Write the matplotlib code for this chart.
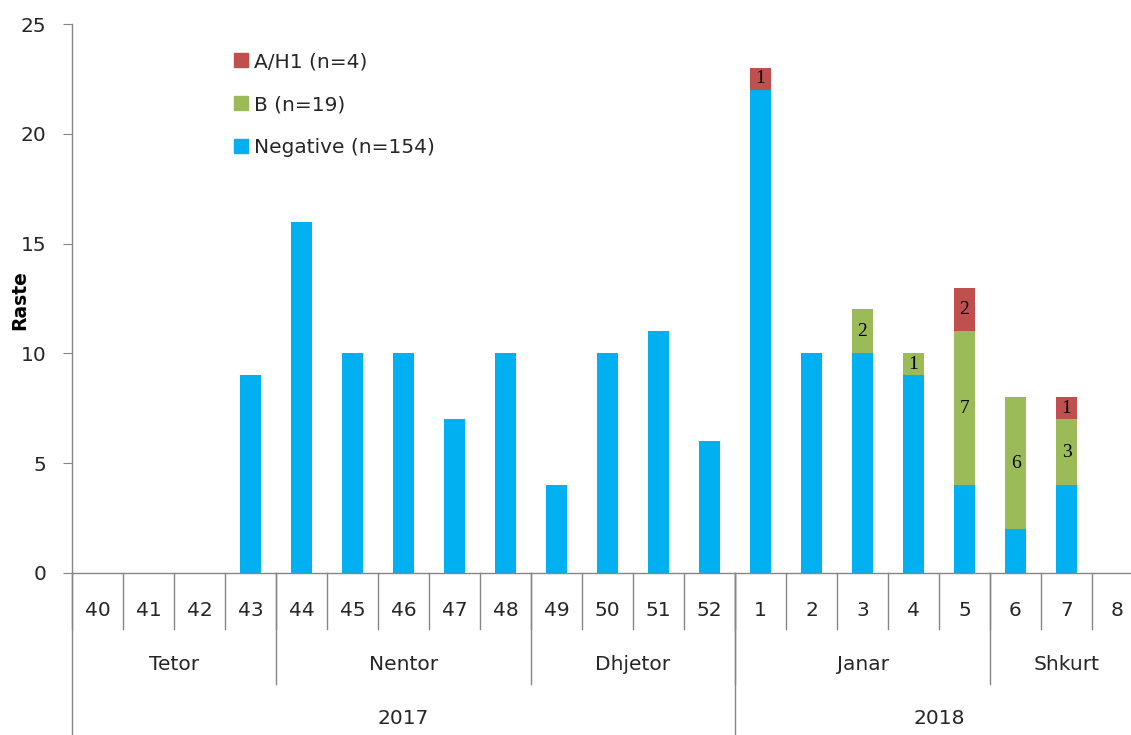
import matplotlib
matplotlib.use("Agg")
import matplotlib.pyplot as plt
from matplotlib.transforms import blended_transform_factory
from matplotlib.patches import Patch

plt.rcParams['font.family'] = ['DejaVu Sans']

weeks = ['40', '41', '42', '43', '44', '45', '46', '47', '48', '49', '50', '51', '52',
         '1', '2', '3', '4', '5', '6', '7', '8']
negative = [0, 0, 0, 9, 16, 10, 10, 7, 10, 4, 10, 11, 6, 22, 10, 10, 9, 4, 2, 4, 0]
flu_b = [0, 0, 0, 0, 0, 0, 0, 0, 0, 0, 0, 0, 0, 0, 0, 2, 1, 7, 6, 3, 0]
flu_a = [0, 0, 0, 0, 0, 0, 0, 0, 0, 0, 0, 0, 0, 1, 0, 0, 0, 2, 0, 1, 0]
months = ['Tetor', 'Nentor', 'Dhjetor', 'Janar', 'Shkurt']
month_sizes = [4, 5, 4, 5, 3]
years = ['2017', '2018']
year_sizes = [13, 8]

c_neg = '#00B0F0'
c_b = '#9BBB59'
c_a = '#C0504D'
grey = '#868686'
txt = '#262626'
fs = 14.5

W, H = 1131, 735
fig = plt.figure(figsize=(W / 100, H / 100), dpi=100)
# axes run past the right edge, as in the cropped original
ax = fig.add_axes([72 / W, (H - 573) / H, 1071 / W, 549 / H])

x = [i + 0.5 for i in range(len(weeks))]
bw = 0.41
ax.bar(x, negative, bw, color=c_neg, edgecolor='none')
ax.bar(x, flu_b, bw, bottom=negative, color=c_b, edgecolor='none')
base_a = [n + b for n, b in zip(negative, flu_b)]
ax.bar(x, flu_a, bw, bottom=base_a, color=c_a, edgecolor='none')

for xi, n, b, a in zip(x, negative, flu_b, flu_a):
    if b:
        ax.text(xi, n + b / 2, str(b), ha='center', va='center', fontsize=14,
                family='Liberation Serif', color='black')
    if a:
        ax.text(xi, n + b + a / 2, str(a), ha='center', va='center', fontsize=14,
                family='Liberation Serif', color='black')

ax.set_xlim(0, len(weeks))
ax.set_ylim(0, 25)
ax.set_yticks(range(0, 26, 5))
ax.tick_params(axis='y', direction='out', length=6.5, color=grey, labelsize=fs,
               labelcolor=txt, pad=12)
ax.set_xticks([])
for s in ['top', 'right']:
    ax.spines[s].set_visible(False)
for s in ['left', 'bottom']:
    ax.spines[s].set_color(grey)
    ax.spines[s].set_linewidth(1)

tr = blended_transform_factory(ax.transData, fig.transFigure)

def fy(p):
    return (H - p) / H

fig.text(20 / W, fy(300), 'Raste', rotation=90, ha='center', va='center',
         fontsize=13.5, fontweight='bold', color='black')

# week row
for i, w in enumerate(weeks):
    ax.text(i + 0.5, fy(610), w, transform=tr, ha='center', va='center',
            fontsize=fs, color=txt)
for i in range(len(weeks) + 1):
    ax.plot([i, i], [fy(573), fy(629)], transform=tr, color=grey, lw=1, clip_on=False)

# month row
pos = 0
for m, n in zip(months, month_sizes):
    ax.text(pos + n / 2, fy(665), m, transform=tr, ha='center', va='center',
            fontsize=fs, color=txt)
    pos += n
    ax.plot([pos, pos], [fy(573), fy(684)], transform=tr, color=grey, lw=1, clip_on=False)

# year row
pos = 0
ax.plot([0, 0], [fy(573), fy(H)], transform=tr, color=grey, lw=1, clip_on=False)
for yname, n in zip(years, year_sizes):
    ax.text(pos + n / 2, fy(718), yname, transform=tr, ha='center', va='center',
            fontsize=fs, color=txt)
    pos += n
    ax.plot([pos, pos], [fy(573), fy(H)], transform=tr, color=grey, lw=1, clip_on=False)

handles = [Patch(color=c_a, label='A/H1 (n=4)'),
           Patch(color=c_b, label='B (n=19)'),
           Patch(color=c_neg, label='Negative (n=154)')]
leg = fig.legend(handles=handles, loc='upper left', bbox_to_anchor=(226 / W, fy(44)),
                 frameon=False, fontsize=fs, handlelength=0.7, handleheight=0.7,
                 handletextpad=0.3, labelspacing=1.2, borderaxespad=0)
for t in leg.get_texts():
    t.set_color(txt)

fig.savefig('out.png', dpi=100)
